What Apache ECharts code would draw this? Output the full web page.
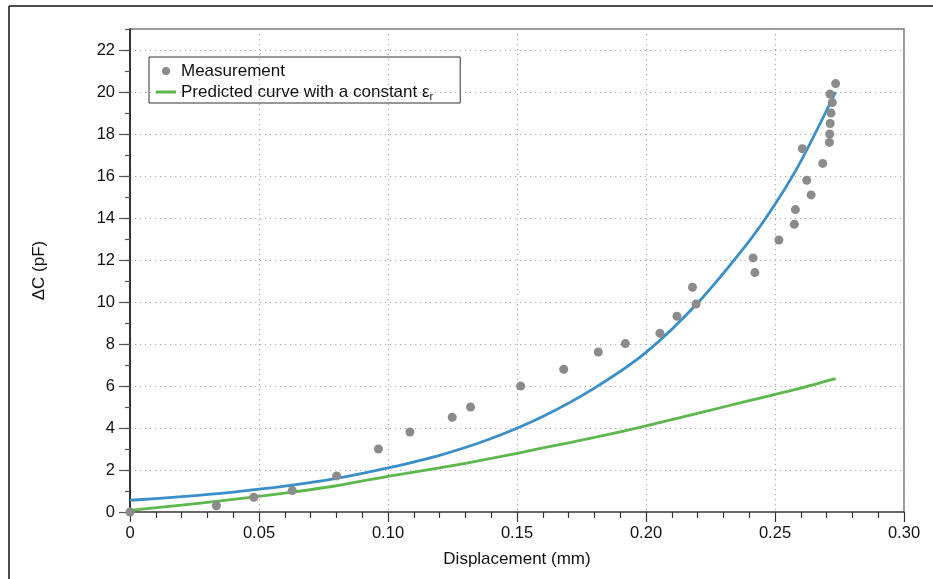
<!DOCTYPE html>
<html>
<head>
<meta charset="utf-8">
<script src="https://cdn.jsdelivr.net/npm/echarts@6/dist/echarts.min.js"></script>
<style>
html,body{margin:0;padding:0;background:#fff;}
#chart{width:933px;height:579px;}
</style>
</head>
<body>
<div id="chart"></div>
<script>
// ---- data ----
const measX = [0, 0.0335, 0.048, 0.0629, 0.0801, 0.0963, 0.1085, 0.1249, 0.132, 0.1514, 0.1681, 0.1815, 0.192, 0.2054, 0.212, 0.218, 0.2194, 0.2415, 0.2422, 0.2515, 0.2575, 0.2579, 0.2606, 0.2623, 0.264, 0.2685, 0.2711, 0.2712, 0.2714, 0.2717, 0.2722, 0.2713, 0.2735];
const measY = [0, 0.3, 0.7, 1.02, 1.72, 3.0, 3.81, 4.51, 5.0, 6.0, 6.8, 7.62, 8.02, 8.51, 9.32, 10.7, 9.9, 12.1, 11.4, 12.95, 13.7, 14.4, 17.3, 15.8, 15.1, 16.6, 17.6, 18.0, 18.5, 19.0, 19.5, 19.9, 20.4];

const curveX = [0, 0.02, 0.04, 0.06, 0.08, 0.10, 0.12, 0.14, 0.16, 0.18, 0.20, 0.22, 0.24, 0.25, 0.26, 0.2735];
const blueY  = [0.56, 0.73, 0.95, 1.23, 1.6, 2.1, 2.7, 3.5, 4.55, 5.9, 7.6, 9.95, 12.9, 14.65, 16.7, 20.0];
const greenY = [0.08, 0.33, 0.6, 0.9, 1.25, 1.7, 2.1, 2.55, 3.05, 3.55, 4.1, 4.7, 5.3, 5.6, 5.9, 6.35];

const xTickValues = [0, 0.05, 0.10, 0.15, 0.20, 0.25, 0.30];
const xTickLabels = ['0', '0.05', '0.10', '0.15', '0.20', '0.25', '0.30'];
const yTickValues = [0, 2, 4, 6, 8, 10, 12, 14, 16, 18, 20, 22];
const yTickLabels = ['0', '2', '4', '6', '8', '10', '12', '14', '16', '18', '20', '22'];

const measName = 'Measurement';
const greenName = 'Predicted curve with a constant εr';
const xName = 'Displacement (mm)';
const yName = 'ΔC (pF)';

// ---- build ----
const FONT = '"Liberation Sans", Arial, Helvetica, sans-serif';
const BLUE = '#3a8fc9', GREEN = '#5cb84c', GRAY = '#8b8b8b';
const zip = (xs, ys) => xs.map((x, i) => [x, ys[i]]);
const dotted = { color: '#a8a8a8', width: 1.2, type: [1.2, 3.8] };

const chart = echarts.init(document.getElementById('chart'), null, { renderer: 'canvas' });
chart.setOption({
  animation: false,
  backgroundColor: '#ffffff',
  textStyle: { fontFamily: FONT },
  graphic: [
    { type: 'line', shape: { x1: 9, y1: 6, x2: 933, y2: 6 }, style: { stroke: '#111', lineWidth: 1.5 } },
    { type: 'line', shape: { x1: 9, y1: 6, x2: 9, y2: 579 }, style: { stroke: '#111', lineWidth: 1.5 } }
  ],
  grid: {
    left: 130, right: 29, top: 29, bottom: 67,
    show: true, borderColor: '#7a7a7a', borderWidth: 1.5, backgroundColor: 'transparent'
  },
  legend: {
    data: [
      { name: measName, icon: 'circle', itemStyle: { color: GRAY } },
      { name: greenName, icon: 'path://M0,0 L20,0 L20,3 L0,3 Z', itemStyle: { color: GREEN, borderWidth: 0 } }
    ],
    orient: 'vertical',
    left: 149, top: 57,
    padding: [5, 27, 1, 7],
    itemGap: 2,
    itemWidth: 20, itemHeight: 8,
    borderColor: '#333', borderWidth: 1,
    backgroundColor: 'transparent',
    textStyle: {
      fontFamily: FONT, fontSize: 17, color: '#111', lineHeight: 18,
      rich: { sub: { fontFamily: FONT, fontSize: 11, color: '#111', padding: [9, 0, 0, 0], lineHeight: 18 } }
    },
    formatter: function (n) {
      return n === greenName ? 'Predicted curve with a constant ε{sub|r}' : n;
    }
  },
  xAxis: {
    type: 'value', min: 0, max: 0.3, interval: 0.05,
    name: xName, nameLocation: 'middle', nameGap: 39,
    nameTextStyle: { fontFamily: FONT, fontSize: 17, color: '#111' },
    axisLine: { lineStyle: { color: '#555', width: 1.5 } },
    axisTick: { show: true, length: 10, lineStyle: { color: '#333', width: 1.2 } },
    minorTick: { show: true, splitNumber: 5, length: 6, lineStyle: { color: '#333', width: 1.2 } },
    axisLabel: {
      fontFamily: FONT, fontSize: 16.5, color: '#111', margin: 13,
      formatter: function (v) {
        const i = xTickValues.findIndex(t => Math.abs(t - v) < 1e-9);
        return i >= 0 ? xTickLabels[i] : '';
      }
    },
    splitLine: { show: true, lineStyle: dotted },
    minorSplitLine: { show: false }
  },
  yAxis: [
    {
      type: 'value', min: 0, max: 23, interval: 1,
      name: yName, nameLocation: 'middle', nameGap: 82,
      nameTextStyle: { fontFamily: FONT, fontSize: 17, color: '#111' },
      axisLine: { show: true, lineStyle: { color: '#111', width: 1.5 } },
      axisTick: { show: true, length: 5, lineStyle: { color: '#555', width: 1.2 } },
      axisLabel: { show: false },
      splitLine: { show: false }
    },
    {
      type: 'value', min: 0, max: 23, interval: 2, position: 'left',
      axisLine: { show: false },
      axisTick: { show: true, length: 11, customValues: yTickValues, lineStyle: { color: '#555', width: 1.2 } },
      axisLabel: {
        fontFamily: FONT, fontSize: 16.5, color: '#111', margin: 15,
        customValues: yTickValues,
        formatter: function (v) {
          const i = yTickValues.indexOf(v);
          return i >= 0 ? yTickLabels[i] : '';
        }
      },
      splitLine: { show: true, lineStyle: dotted }
    }
  ],
  series: [
    {
      name: 'Fit', type: 'line', yAxisIndex: 0, smooth: 0.3, symbol: 'none',
      data: zip(curveX, blueY),
      lineStyle: { color: BLUE, width: 2.8 }, itemStyle: { color: BLUE },
      z: 2
    },
    {
      name: greenName, type: 'line', yAxisIndex: 0, smooth: 0.3, symbol: 'none',
      data: zip(curveX, greenY),
      lineStyle: { color: GREEN, width: 2.8 }, itemStyle: { color: GREEN },
      z: 3
    },
    {
      name: measName, type: 'scatter', yAxisIndex: 0, symbol: 'circle', symbolSize: 9,
      data: zip(measX, measY),
      itemStyle: { color: GRAY, opacity: 1 },
      z: 4
    }
  ]
});
</script>
</body>
</html>
